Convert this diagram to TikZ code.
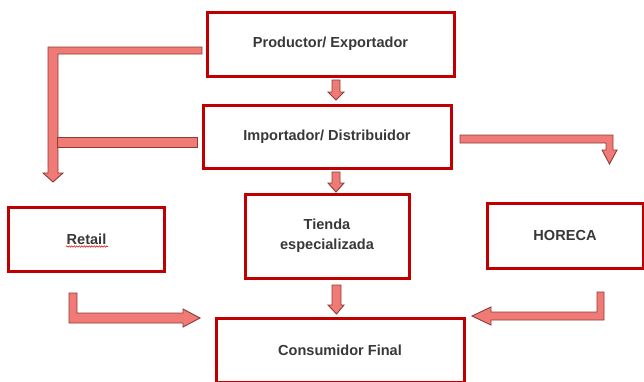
\documentclass[tikz,border=0pt]{standalone}
\usepackage{fontspec}
\setmainfont{Liberation Sans}
\usetikzlibrary{decorations.pathmorphing}
\definecolor{boxred}{HTML}{C00000}
\definecolor{arrfill}{HTML}{F07B76}
\definecolor{arredge}{HTML}{8E3B38}
\definecolor{txt}{HTML}{383838}
\begin{document}
\begin{tikzpicture}[x=1bp,y=-1bp,
  box/.style={draw=boxred, line width=3bp, fill=white, inner sep=0pt,
    font=\fontsize{14.6}{20.5}\selectfont\bfseries, text=txt, align=center},
  blockarrow/.style={fill=arrfill, draw=arredge, line width=0.9bp, line join=miter}]
\useasboundingbox (0,0) rectangle (644,381);
\fill[white] (0,0) rectangle (644,381);
% boxes
\node[box, minimum width=247bp, minimum height=64bp] (prod) at (330.5,44) {Productor/ Exportador};
\node[box, minimum width=248bp, minimum height=63bp] (imp) at (327,136.5) {Importador/ Distribuidor};
\node[box, minimum width=164bp, minimum height=84bp] (tienda) at (327,236) {Tienda\\especializada};
\node[box, minimum width=155bp, minimum height=64bp] (retail) at (86.5,239) {Retail};
\node[box, minimum width=156bp, minimum height=65bp] (horeca) at (565,235.5) {HORECA};
\node[box, minimum width=248bp, minimum height=64bp] (cons) at (340,350) {Consumidor Final};
% spell-check underline
\draw[red!85!black, line width=0.5bp, decorate, decoration={snake, amplitude=0.7bp, segment length=2.5bp}]
  (66,246.5) -- (108,246.5);
% small down arrows
\draw[blockarrow] (332,80) -- (340,80) -- (340,92) -- (344,92) -- (336,100) -- (328,92) -- (332,92) -- cycle;
\draw[blockarrow] (332,172) -- (340,172) -- (340,183) -- (344,183) -- (336,192) -- (328,183) -- (332,183) -- cycle;
\draw[blockarrow] (332,285) -- (341,285) -- (341,305) -- (344,305) -- (336.5,314) -- (328,305) -- (332,305) -- cycle;
% left big arrow
\draw[blockarrow] (48,47) -- (202,47) -- (202,54) -- (58,54) -- (58,173) -- (63,173) -- (53,182) -- (43,173) -- (48,173) -- cycle;
\draw[blockarrow] (57,137) -- (197,137) -- (197,147) -- (57,147) -- cycle;
% right arrow
\draw[blockarrow] (460,135) -- (613,135) -- (613,150) -- (617,150) -- (609.5,164) -- (602,150) -- (606,150) -- (606,143) -- (460,143) -- cycle;
% bottom-left arrow
\draw[blockarrow] (69,293) -- (77,293) -- (77,313) -- (183,313) -- (183,309) -- (200,318) -- (183,327) -- (183,323) -- (69,323) -- cycle;
% bottom-right arrow
\draw[blockarrow] (597,292) -- (604,292) -- (604,320) -- (491,320) -- (491,325) -- (472,316) -- (491,307) -- (491,312) -- (597,312) -- cycle;
\end{tikzpicture}
\end{document}
